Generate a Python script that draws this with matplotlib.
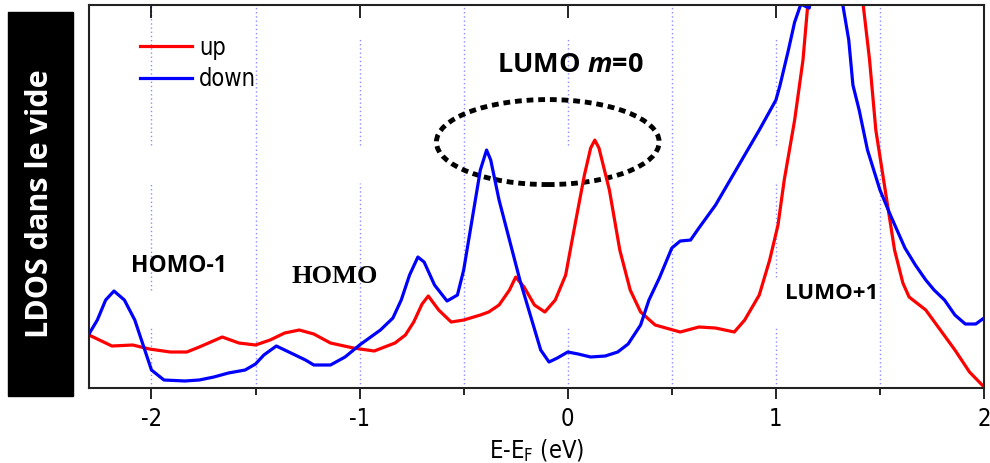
import numpy as np
import matplotlib
matplotlib.use("Agg")
import matplotlib.pyplot as plt
from matplotlib.patches import Ellipse, Rectangle
from matplotlib import font_manager

plt.rcParams['mathtext.fontset'] = 'custom'
plt.rcParams['mathtext.it'] = 'Open Sans:italic:bold'

fonts = font_manager.fontManager.ttflist
names = {f.name for f in fonts}
has_cond = any(f.name == 'DejaVu Sans' and f.stretch == 'condensed' for f in fonts)
if 'Liberation Sans Narrow' in names:
    tick_font = {'family': 'Liberation Sans Narrow'}
elif has_cond:
    tick_font = {'family': 'DejaVu Sans', 'stretch': 'condensed'}
else:
    tick_font = {'family': 'Liberation Sans'}
plt.rcParams['mathtext.rm'] = tick_font['family']

### DATA (LDOS in arbitrary units)
e_up = [-2.30, -2.19, -2.09, -2.01, -1.91, -1.83, -1.77, -1.66, -1.58, -1.50, -1.43, -1.36,
        -1.29, -1.22, -1.14, -1.03, -0.93, -0.83, -0.78, -0.74, -0.70, -0.67, -0.62, -0.56, -0.50,
        -0.42, -0.38, -0.33, -0.28, -0.25, -0.21, -0.16, -0.11, -0.06, -0.01, 0.03, 0.08,
        0.11, 0.13, 0.15, 0.20, 0.25, 0.30, 0.35, 0.42, 0.54, 0.63, 0.71, 0.80, 0.85, 0.92, 0.97,
        1.01, 1.04, 1.09, 1.13, 1.16, 1.29, 1.41, 1.45, 1.48, 1.51, 1.54, 1.57, 1.61, 1.64,
        1.72, 1.79, 1.86, 1.93, 2.00]
ldos_up = [0.53, 0.42, 0.43, 0.39, 0.36, 0.36, 0.41, 0.51, 0.45, 0.43, 0.48, 0.55,
           0.58, 0.54, 0.45, 0.40, 0.37, 0.45, 0.53, 0.66, 0.84, 0.92, 0.78, 0.66, 0.68,
           0.73, 0.76, 0.83, 0.98, 1.11, 1.01, 0.83, 0.76, 0.88, 1.13, 1.58, 2.13,
           2.40, 2.48, 2.40, 1.98, 1.38, 0.98, 0.76, 0.63, 0.56, 0.61, 0.60, 0.56, 0.68, 0.93, 1.28,
           1.63, 2.08, 2.68, 3.28, 4.00, 5.00, 4.00, 3.28, 2.58, 2.18, 1.78, 1.38, 1.05, 0.91,
           0.78, 0.58, 0.38, 0.16, 0.01]

e_down = [-2.30, -2.26, -2.22, -2.18, -2.13, -2.08, -2.04, -2.00, -1.94, -1.84, -1.77, -1.70,
          -1.63, -1.55, -1.50, -1.46, -1.40, -1.34, -1.26, -1.22, -1.14, -1.07, -1.00, -0.90,
          -0.84, -0.80, -0.76, -0.72, -0.69, -0.64, -0.58, -0.53, -0.50, -0.46, -0.42, -0.39,
          -0.37, -0.33, -0.28, -0.23, -0.18, -0.13, -0.09, -0.05, 0.00, 0.05, 0.11, 0.18,
          0.24, 0.29, 0.35, 0.39, 0.44, 0.50, 0.54, 0.59, 0.63, 0.71, 0.78, 0.85, 0.92, 1.00,
          1.02, 1.06, 1.09, 1.12, 1.16, 1.20, 1.26, 1.32, 1.35, 1.37, 1.40, 1.44, 1.50, 1.55,
          1.62, 1.67, 1.72, 1.76, 1.81, 1.86, 1.91, 1.96, 2.00]
ldos_down = [0.54, 0.68, 0.88, 0.97, 0.88, 0.68, 0.43, 0.18, 0.08, 0.07, 0.08, 0.11,
             0.15, 0.18, 0.24, 0.33, 0.42, 0.36, 0.28, 0.23, 0.23, 0.31, 0.43, 0.58,
             0.70, 0.88, 1.13, 1.31, 1.26, 1.03, 0.87, 0.93, 1.18, 1.68, 2.18, 2.38,
             2.28, 1.88, 1.48, 1.08, 0.73, 0.38, 0.26, 0.30, 0.36, 0.34, 0.31, 0.32,
             0.36, 0.44, 0.63, 0.88, 1.10, 1.40, 1.47, 1.48, 1.60, 1.83, 2.08, 2.33, 2.58, 2.88,
             3.03, 3.38, 3.66, 3.84, 3.80, 4.30, 4.80, 3.85, 3.48, 3.03, 2.78, 2.38, 1.98, 1.73,
             1.40, 1.23, 1.08, 0.98, 0.88, 0.73, 0.64, 0.64, 0.70]

major_ticks = [-2, -1, 0, 1, 2]
tick_labels = ['-2', '-1', '0', '1', '2']
grid_pos = [-2, -1.5, -1, -0.5, 0, 0.5, 1, 1.5]

fig = plt.figure(figsize=(9.9, 4.63), dpi=100)
ax = fig.add_axes([0.0899, 0.162, 0.9041, 0.827])

# dotted grid lines (partly hidden behind labels in the original)
grid_segments = {-2: [(0, 0.157), (0.256, 0.535), (0.634, 1)],
                 -1.5: [(0, 1)],
                 -1: [(0, 0.535), (0.634, 0.914)],
                 -0.5: [(0, 1)],
                 0: [(0, 0.157), (0.634, 0.914)],
                 0.5: [(0, 1)],
                 1: [(0, 0.157), (0.290, 0.535), (0.634, 0.914)],
                 1.5: [(0, 1)]}
for g in grid_pos:
    for lo, hi in grid_segments[g]:
        ax.axvline(g, lo, hi, color='#8c8cff', lw=1.0, ls=(0, (1, 2)), zorder=0)

ax.plot(e_up, ldos_up, color='#ff0000', lw=2.3, label='up', solid_joinstyle='round')
ax.plot(e_down, ldos_down, color='#0000ff', lw=2.3, label='down', solid_joinstyle='round')

ax.set_xlim(-2.3, 2.0)
ax.set_ylim(0, 3.83)
ax.set_yticks([])
ax.set_xticks(major_ticks)
ax.set_xticklabels(tick_labels, fontsize=17, **{'font' + k: v for k, v in tick_font.items()})
ax.set_xticks([-1.5, -0.5, 0.5, 1.5], minor=True)
ax.tick_params(which='major', direction='out', length=8, width=1.2, pad=6)
ax.tick_params(which='minor', direction='out', length=5, width=1.2)
for s in ax.spines.values():
    s.set_linewidth(1.5)
    s.set_color('#222222')

top = ax.secondary_xaxis('top')
top.set_xticks(major_ticks)
top.tick_params(direction='in', length=9, width=1.2, labeltop=False)
top.spines['top'].set_visible(False)

ax.set_xlabel('E-E$_\\mathregular{F}$ (eV)', fontsize=17, labelpad=4,
              **{'font' + k: v for k, v in tick_font.items()})

leg = ax.legend(loc='upper left', bbox_to_anchor=(0.057, 0.92), frameon=False,
                handlelength=2.2, handletextpad=0.3, labelspacing=0.3,
                borderpad=0, borderaxespad=0, prop=dict(size=17, **tick_font))

# annotations
ax.text(-1.87, 1.22, 'HOMO-1', fontfamily='Open Sans', fontweight='bold', fontsize=16.5,
        ha='center', va='center')
ax.text(-1.12, 1.12, 'HOMO', fontfamily='Liberation Serif', fontweight='bold', fontsize=19,
        ha='center', va='center')
ax.text(0.01, 3.23, 'LUMO $m$=0', fontfamily='Open Sans', fontweight='bold', fontsize=19.5,
        ha='center', va='center')
ax.text(1.27, 0.95, 'LUMO+1', fontfamily='Open Sans', fontweight='bold', fontsize=16,
        ha='center', va='center')

ax.add_patch(Ellipse((-0.096, 2.46), 1.07, 0.85, fill=False, color='black',
                     lw=3.5, ls=(0, (1.4, 1.0))))

# black side label
fig.patches.append(Rectangle((8 / 990, 67 / 463), 65 / 990, 384 / 463,
                             transform=fig.transFigure, color='black', zorder=0))
fig.text(40.5 / 990, (463 - 204) / 463, 'LDOS dans le vide', rotation=90, color='white',
         fontfamily='Open Sans', fontweight='bold', fontsize=22, ha='center', va='center')

fig.savefig('out.png', dpi=100)
